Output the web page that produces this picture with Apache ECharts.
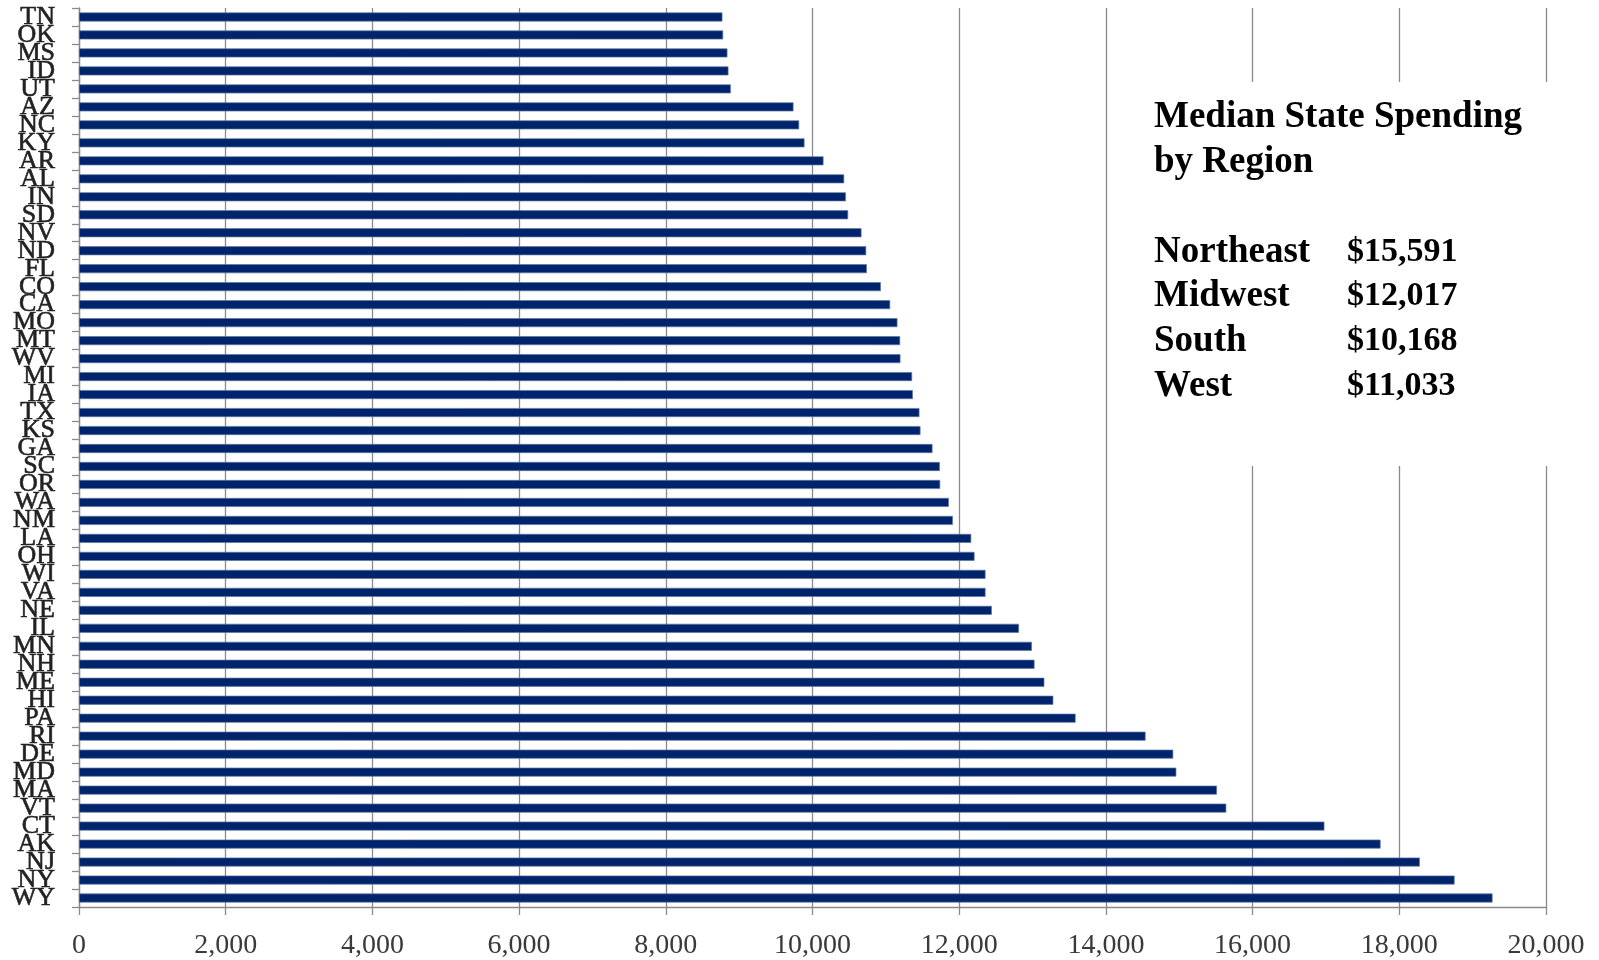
<!DOCTYPE html>
<html>
<head>
<meta charset="utf-8">
<title>Median State Spending</title>
<script src="https://cdn.jsdelivr.net/npm/echarts@6/dist/echarts.min.js"></script>
<style>
	html, body { margin: 0; padding: 0; background: #fff; }
	#main { width: 1599px; height: 960px; }
</style>
</head>
<body>
<div id="main"></div>
<script>
// states top to bottom, as in the picture
var states = ["TN", "OK", "MS", "ID", "UT", "AZ", "NC", "KY", "AR", "AL",
	"IN", "SD", "NV", "ND", "FL", "CO", "CA", "MO", "MT", "WV",
	"MI", "IA", "TX", "KS", "GA", "SC", "OR", "WA", "NM", "LA",
	"OH", "WI", "VA", "NE", "IL", "MN", "NH", "ME", "HI", "PA",
	"RI", "DE", "MD", "MA", "VT", "CT", "AK", "NJ", "NY", "WY"];

var spending = [8772, 8782, 8840, 8854, 8886, 9741, 9818, 9891, 10150, 10432,
	10455, 10486, 10668, 10732, 10741, 10932, 11059, 11158, 11195, 11199,
	11358, 11368, 11458, 11472, 11636, 11736, 11741, 11859, 11914, 12164,
	12209, 12359, 12359, 12445, 12815, 12991, 13027, 13161, 13283, 13587,
	14541, 14918, 14960, 15514, 15641, 16979, 17745, 18280, 18754, 19271];

var xTicks = [0, 20000, 2000]; // min, max, interval

var boxTitle = ["Median State Spending", "by Region"];
var regions = ["Northeast", "Midwest", "South", "West"];
var regionValues = ["$15,591", "$12,017", "$10,168", "$11,033"];

function fmtNum(v) {
	return String(v).replace(/\B(?=(\d{3})+(?!\d))/g, ",");
}

var chart = echarts.init(document.getElementById("main"));

var serif = "'Liberation Serif', 'DejaVu Serif', serif";
var gridColor = "#8a8a8a";

function boxText(txt, x, y, size) {
	return {
		type: "text", z: 51,
		style: {
			text: txt, x: x, y: y,
			font: "bold " + size + "px " + serif, fill: "#000",
			textAlign: "left", textVerticalAlign: "middle", verticalAlign: "middle"
		}
	};
}

//---------- text box on the right ----------//
var boxX = 1154, valX = 1347;
var graphics = [{
	type: "rect",
	shape: { x: 1110, y: 82, width: 455, height: 384 },
	style: { fill: "#fff" },
	z: 50
}];
var titleBase = [128, 173];
for (var i = 0; i < boxTitle.length; i++) {
	graphics.push(boxText(boxTitle[i], boxX, titleBase[i] - 11, 37));
}
for (var j = 0; j < regions.length; j++) {
	var base = 263 + j * 44.7;
	graphics.push(boxText(regions[j], boxX, base - 11, 37));
	graphics.push(boxText(regionValues[j], valX, base - 11, 34));
}

var option = {
	backgroundColor: "#fff",
	animation: false,
	grid: { left: 79, right: 53, top: 8, bottom: 53, containLabel: false },
	xAxis: {
		type: "value",
		min: xTicks[0],
		max: xTicks[1],
		interval: xTicks[2],
		axisLine: { show: true, lineStyle: { color: gridColor, width: 1.3 } },
		axisTick: { show: true, length: 8, lineStyle: { color: gridColor, width: 1.3 } },
		splitLine: { show: true, lineStyle: { color: gridColor, width: 1.3 } },
		axisLabel: {
			margin: 25,
			color: "#3a3a3a",
			fontFamily: serif,
			fontSize: 28,
			formatter: function(v) { return fmtNum(v); }
		}
	},
	yAxis: {
		type: "category",
		inverse: true,
		data: states,
		axisLine: { show: true, lineStyle: { color: gridColor, width: 1.3 } },
		axisTick: { show: true, length: 7, lineStyle: { color: gridColor, width: 1.3 } },
		axisLabel: {
			interval: 0,
			margin: 24,
			color: "#222",
			fontFamily: serif,
			fontSize: 26,
			lineHeight: 26,
			textBorderColor: "#222",
			textBorderWidth: 0.6,
			padding: [0, 0, 3, 0]
		}
	},
	series: [{
		type: "bar",
		data: spending,
		barWidth: 9,
		itemStyle: {
			color: "#00246b",
			borderColor: "#5f75a3",
			borderWidth: 0.7
		}
	}],
	graphic: graphics
};

chart.setOption(option);
</script>
</body>
</html>
